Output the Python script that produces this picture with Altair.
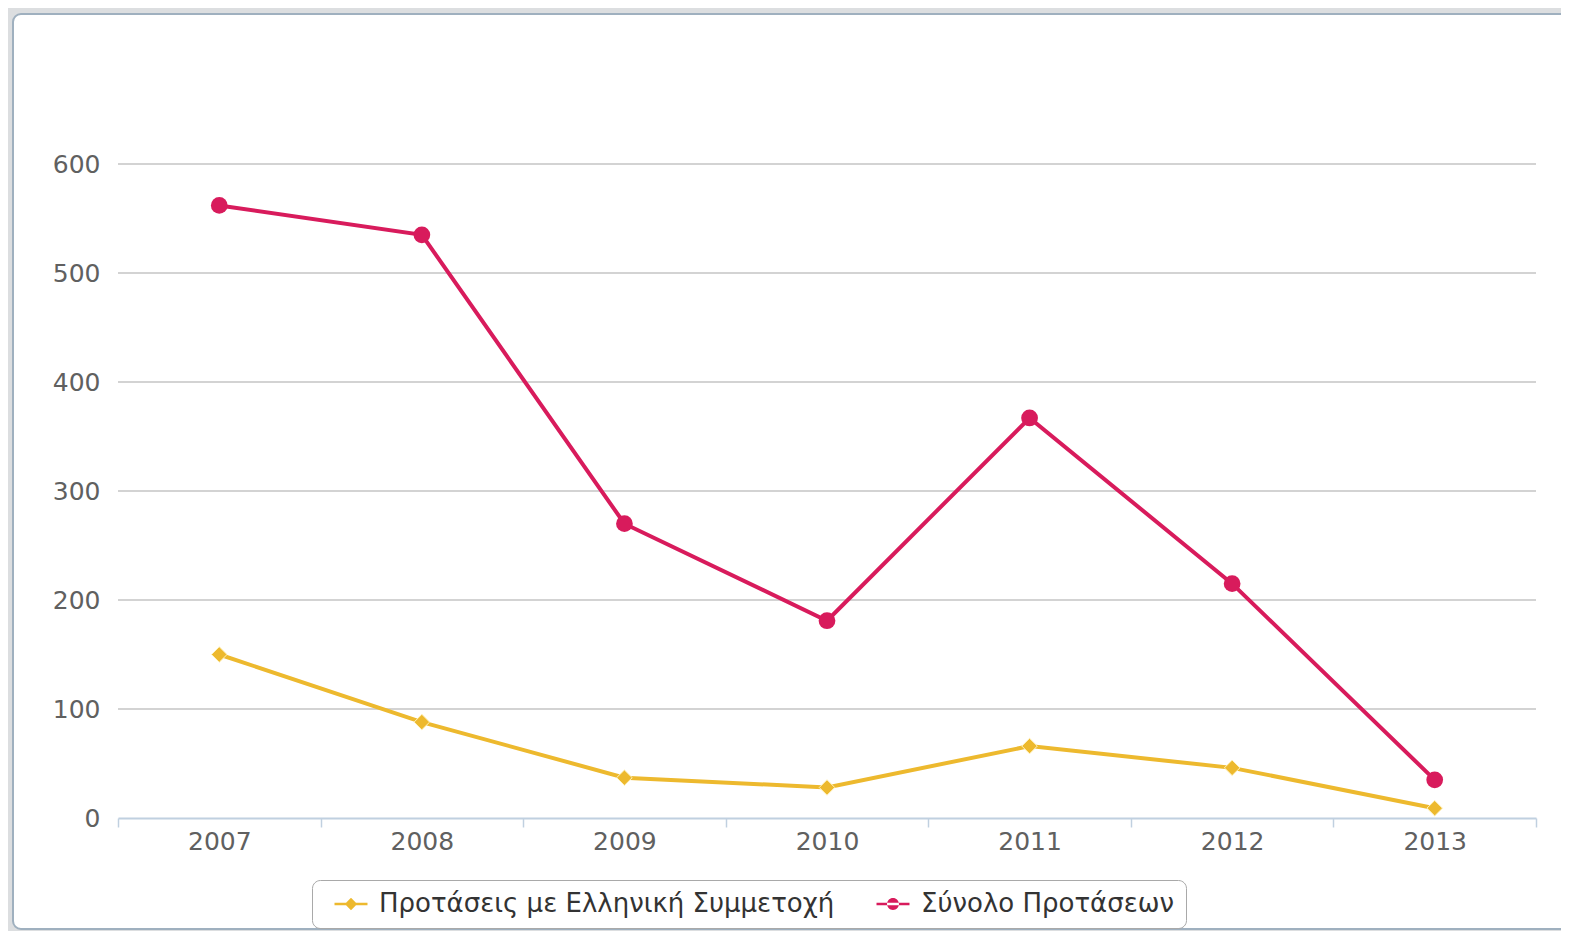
import altair as alt
import pandas as pd

years = ["2007", "2008", "2009", "2010", "2011", "2012", "2013"]
greek = [150, 88, 37, 28, 66, 46, 9]
total = [562, 535, 270, 181, 367, 215, 35]
series = ["Προτάσεις με Ελληνική Συμμετοχή", "Σύνολο Προτάσεων"]
colors = ["#EDB92E", "#D81B5C"]
y_ticks = [0, 100, 200, 300, 400, 500, 600]

rows = []
for y, g, t in zip(years, greek, total):
    rows.append({"year": y, "value": g, "series": series[0]})
    rows.append({"year": y, "value": t, "series": series[1]})
df = pd.DataFrame(rows)

color_scale = alt.Scale(domain=series, range=colors)
legend = alt.Legend(title=None, orient="none", legendX=194, legendY=716, direction="horizontal",
                    symbolOpacity=1, symbolStrokeWidth=0, symbolSize=425,
                    labelFontSize=26, labelColor="#333333",
                    labelFont="DejaVu Sans",
                    strokeColor="#A9A9A9", cornerRadius=8, padding=11,
                    columnPadding=30, labelLimit=700,
                    symbolOffset=15, labelOffset=15)
color_enc = alt.Color("series:N", scale=color_scale, legend=legend)

x_enc = alt.X("year:N", sort=years, scale=alt.Scale(paddingInner=0, paddingOuter=0),
              axis=alt.Axis(title=None, labelAngle=0, tickBand="extent", domainColor="#C0D0E0",
                            domainWidth=2, tickColor="#C0D0E0", tickWidth=1.5, tickSize=9,
                            labelPadding=2, labelFontSize=25, labelColor="#606060",
                            labelFont="DejaVu Sans", grid=False, zindex=1))
y_scale = alt.Scale(domain=[0, 600], nice=False)
y_enc = alt.Y("value:Q", scale=y_scale,
              axis=alt.Axis(title=None, values=y_ticks, domain=False,
                            ticks=False, grid=False, labelPadding=18, zindex=1,
                            labelFontSize=25, labelColor="#606060", labelFont="DejaVu Sans"))

panel = alt.Chart(pd.DataFrame({"a": [0]})).mark_rect(
    fill="white", stroke="#9FB0BF", strokeWidth=2, cornerRadius=8
).encode(
    x=alt.value(-105), x2=alt.value(1470), y=alt.value(-150), y2=alt.value(765)
)

grid = alt.Chart(pd.DataFrame({"value": y_ticks[1:]})).mark_rule(
    color="#C4C4C4", strokeWidth=1.5
).encode(y=y_enc)

lines = alt.Chart(df).mark_line(strokeWidth=4).encode(
    x=x_enc, y=y_enc, color=color_enc, detail="series:N",
)

pts_greek = alt.Chart(df[df.series == series[0]]).mark_point(
    shape="diamond", filled=True, size=240, opacity=1, stroke="#FFF3C0", strokeWidth=1
).encode(x=x_enc, y=y_enc, color=color_enc)

pts_total = alt.Chart(df[df.series == series[1]]).mark_point(
    shape="circle", filled=True, size=280, opacity=1
).encode(x=x_enc, y=y_enc, color=color_enc)

diamond_path = "M-1.6,-0.13H1.6V0.13H-1.6Z M0,-0.6L0.6,0L0,0.6L-0.6,0Z"
circle_path = "M-1.6,-0.13H1.6V0.13H-1.6Z M-0.58,0A0.58,0.58,0,1,0,0.58,0A0.58,0.58,0,1,0,-0.58,0Z"

legend_layer = alt.Chart(df).mark_point(filled=True, opacity=0, size=425).encode(
    x=x_enc, y=y_enc, color=color_enc,
    shape=alt.Shape("series:N", scale=alt.Scale(domain=series, range=[diamond_path, circle_path]),
                    legend=legend),
)

chart = alt.layer(panel, grid, lines, pts_greek, pts_total, legend_layer).properties(
    width=1418, height=654, background="#DCDEE0",
    padding={"left": 110, "top": 156, "right": 25, "bottom": 113},
    autosize=alt.AutoSizeParams(type="none"),
).configure_view(stroke=None)

chart.save("out.html", embed_options={"renderer": "svg", "actions": False})
